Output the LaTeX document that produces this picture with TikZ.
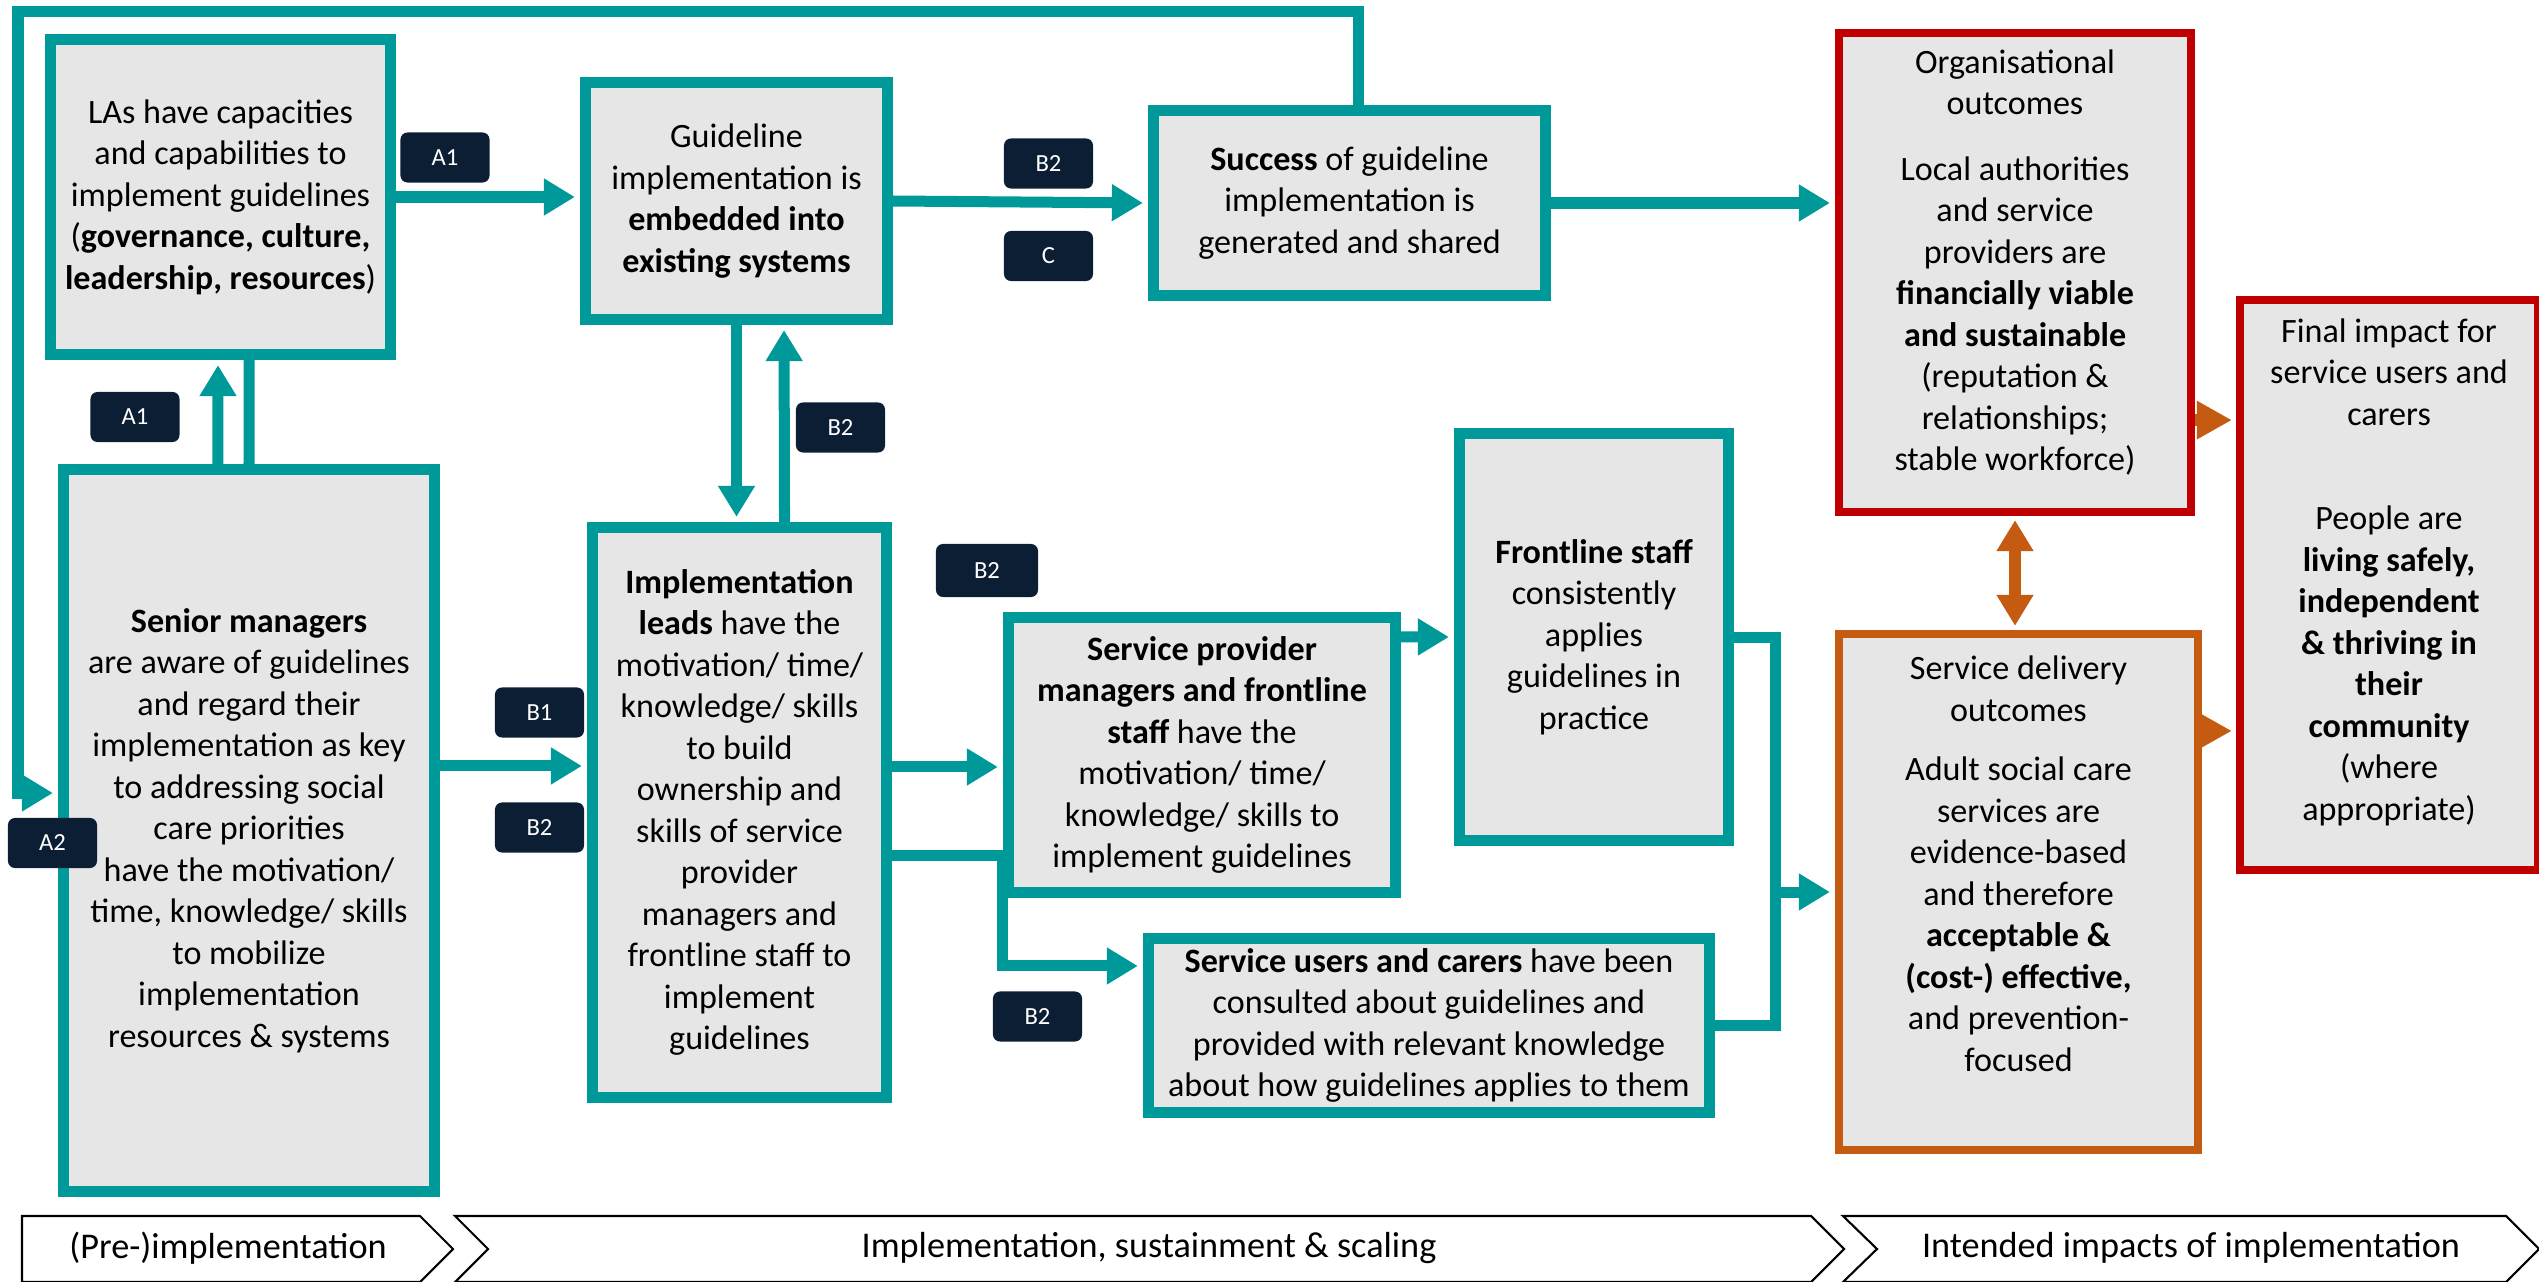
\documentclass[tikz,border=0pt]{standalone}
\usepackage{fontspec}
\setmainfont{Carlito}
\usetikzlibrary{arrows.meta,positioning,calc}
\definecolor{boxbg}{HTML}{E7E6E6}
\definecolor{tealc}{HTML}{009999}
\definecolor{redc}{HTML}{C00000}
\definecolor{orangec}{HTML}{C55A11}
\definecolor{navy}{HTML}{0C1E33}

\begin{document}
\begin{tikzpicture}[x=0.01cm, y=-0.01cm,
  every node/.style={font=\fontsize{9.7}{11.8}\selectfont},
  box/.style={draw=tealc, line width=1.1mm, fill=boxbg, align=center, inner sep=0pt},
  outbox/.style={box, draw=redc, line width=0.85mm},
  delbox/.style={box, draw=orangec, line width=0.85mm},
  tag/.style={fill=navy, text=white, rounded corners=0.7mm, minimum width=8.9mm, minimum height=5mm, inner sep=0pt, font=\fontsize{7}{8}\selectfont},
  link/.style={draw=tealc, line width=1.1mm},
  arr/.style={link, shorten >=0.5mm, -{Triangle[length=3.1mm,width=3.5mm]}},
  oarr/.style={draw=orangec, line width=1.2mm, shorten >=0.4mm, -{Triangle[length=3.5mm,width=3.6mm]}},
  oarrs/.style={oarr, shorten <=0.4mm, {Triangle[length=3.1mm,width=3.5mm]}-{Triangle[length=3.1mm,width=3.5mm]}},
  phase/.style={draw=black, line width=0.6pt},
  phasetext/.style={font=\fontsize{10.3}{12}\selectfont}]
\useasboundingbox (0,0) rectangle (2539,1282);

% (pre-)implementation
\node[box, minimum width=3.40cm, minimum height=3.15cm] (las) at (220.5,197) {LAs have capacities\\and capabilities to\\implement guidelines\\(\textbf{governance, culture,}\\\textbf{leadership, resources})};
\node[box, minimum width=3.71cm, minimum height=7.22cm] (senior) at (249,830.5) {\textbf{Senior managers}\\are aware of guidelines\\and regard their\\implementation as key\\to addressing social\\care priorities\\have the motivation/\\time, knowledge/ skills\\to mobilize\\implementation\\resources \& systems};

% implementation, sustainment & scaling
\node[box, minimum width=3.02cm, minimum height=2.37cm] (guide) at (736.5,201) {Guideline\\implementation is\\\textbf{embedded into}\\\textbf{existing systems}};
\node[box, minimum width=3.92cm, minimum height=1.85cm] (success) at (1349.5,203) {\textbf{Success} of guideline\\implementation is\\generated and shared};
\node[box, minimum width=2.94cm, minimum height=5.70cm] (impl) at (739.5,812.5) {\textbf{Implementation}\\\textbf{leads} have the\\motivation/ time/\\knowledge/ skills\\to build\\ownership and\\skills of service\\provider\\managers and\\frontline staff to\\implement\\guidelines};
\node[box, minimum width=3.87cm, minimum height=2.75cm] (sp) at (1202,755) {\textbf{Service provider}\\\textbf{managers and frontline}\\\textbf{staff} have the\\motivation/ time/\\knowledge/ skills to\\implement guidelines};
\node[box, minimum width=2.69cm, minimum height=4.07cm] (front) at (1594,637) {\textbf{Frontline staff}\\consistently\\applies\\guidelines in\\practice};
\node[box, minimum width=5.61cm, minimum height=1.74cm] (users) at (1429,1025.5) {\textbf{Service users and carers} have been\\consulted about guidelines and\\provided with relevant knowledge\\about how guidelines applies to them};

% intended impacts
\node[outbox, minimum width=3.515cm, minimum height=4.785cm] (org) at (2015,272.5) {};
\node[align=center] (orgtxt) at ([yshift=1mm]org.center) {Organisational\\outcomes\\[2.4mm]Local authorities\\and service\\providers are\\\textbf{financially viable}\\\textbf{and sustainable}\\(reputation \&\\relationships;\\stable workforce)};
\node[delbox, minimum width=3.585cm, minimum height=5.155cm] (sdo) at (2018.5,892) {};
\node[align=center] (sdotxt) at ([yshift=2.8mm]sdo.center) {Service delivery\\outcomes\\[1.8mm]Adult social care\\services are\\evidence-based\\and therefore\\\textbf{acceptable \&}\\\textbf{(cost-) effective,}\\and prevention-\\focused};
\node[outbox, minimum width=2.975cm, minimum height=5.695cm] (final) at (2389,585) {};
\node[align=center] (finaltxt) at ([yshift=1.3mm]final.center) {Final impact for\\service users and\\carers\\[6.3mm]People are\\\textbf{living safely,}\\\textbf{independent}\\\textbf{\& thriving in}\\\textbf{their}\\\textbf{community}\\(where\\appropriate)};

% connectors
\coordinate (lpa) at (18,12);
\coordinate (lpb) at (18,793);
\coordinate (jn) at (1775,892);
\draw[arr] ([xshift=.085cm]success.north) |- (lpa) -- (lpb) -- (lpb -| senior.west);
\draw[arr] ([xshift=-.31cm]senior.north) -- ([xshift=-.025cm]las.south);
\draw[link] (senior.north) -- ([xshift=.285cm]las.south);
\draw[arr] (las.east) -- (las.east -| guide.west);
\draw[arr] (guide.east) -- (success.west);
\draw[arr] (success.east) -- (success.east -| org.west);
\draw[arr] (guide.south) -- (guide.south |- impl.north);
\draw[arr] ([xshift=.45cm]impl.north) -- ([xshift=.475cm]guide.south);
\draw[arr] ([yshift=.645cm]senior.east) -- ([yshift=.645cm]senior.east -| impl.west);
\draw[arr] ([yshift=.455cm]impl.east) -- ([yshift=.455cm]impl.east -| sp.west);
\draw[arr] ([yshift=-.425cm]impl.east) -| ([yshift=.595cm]users.west -| sp.west) -- ([yshift=.595cm]users.west);
\draw[arr] ([yshift=1.18cm]sp.east) -- (front.west);
\draw[link] (front.east) -| (jn);
\draw[link] (users.east) -| (jn);
\draw[arr] (jn) -- (sdo.west);
\draw[oarrs] (org.south) -- (org.south |- sdo.north);
\draw[oarr] ([yshift=-1.475cm]org.east) -- ([yshift=-1.475cm]org.east -| final.west);
\draw[oarr] ([yshift=1.61cm]sdo.east) -- ([yshift=1.61cm]sdo.east -| final.west);

% labels
\node[tag] (a1top) at (445,157.5) {A1};
\node[tag] (a1low) at (135,417) {A1};
\node[tag] (a2) at (52.5,843) {A2};
\node[tag] (b2guide) at (840.5,427.5) {B2};
\node[tag] (b2succ) at (1048.5,163.5) {B2};
\node[tag] (csucc) at (1048.5,256) {C};
\node[tag] (b1) at (539.5,712.5) {B1};
\node[tag] (b2impl) at (539.5,827.5) {B2};
\node[tag, minimum width=10.2mm, minimum height=5.3mm] (b2sp) at (987,570.5) {B2};
\node[tag] (b2users) at (1037.5,1016.5) {B2};

% phases
\draw[phase] (22,1216) -- (420,1216) -- (453,1249) -- (420,1282) -- (22,1282) -- cycle;
\node[phasetext] (pre) at (228,1248) {(Pre-)implementation};
\draw[phase] (455,1216) -- (1811,1216) -- (1844,1249) -- (1811,1282) -- (455,1282) -- (488,1249) -- cycle;
\node[phasetext] (during) at (1149,1248) {Implementation, sustainment \& scaling};
\draw[phase] (1843,1216) -- (2506,1216) -- (2539,1249) -- (2506,1282) -- (1843,1282) -- (1877,1249) -- cycle;
\node[phasetext] (impacts) at (2191,1248) {Intended impacts of implementation};
\end{tikzpicture}
\end{document}
